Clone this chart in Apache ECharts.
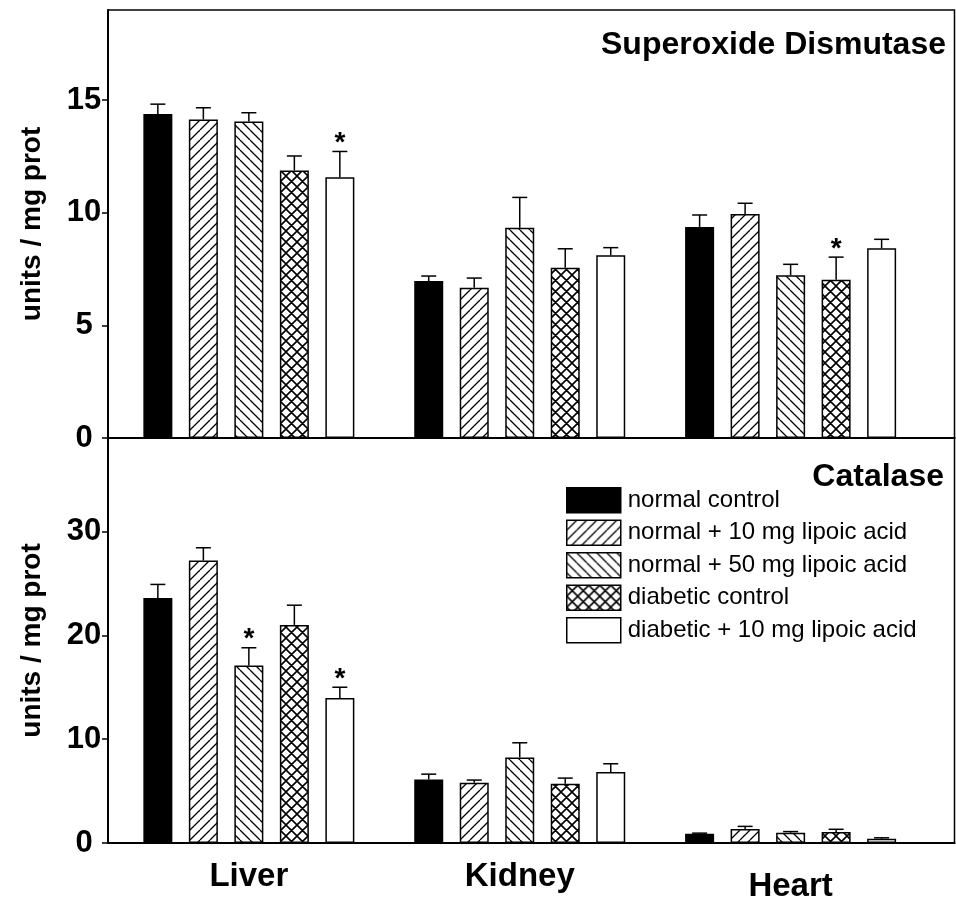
<!DOCTYPE html>
<html><head><meta charset="utf-8">
<script src="https://cdn.jsdelivr.net/npm/echarts@6/dist/echarts.min.js"></script>
<style>html,body{margin:0;padding:0;background:#fff}#c{width:956px;height:904px}</style>
</head><body><div id="c"></div>
<script>
// ---------- data ----------
const categories = ['Liver', 'Kidney', 'Heart'];
const categoryPos = [1, 2, 3];
const groupNames = ['normal control', 'normal + 10 mg lipoic acid', 'normal + 50 mg lipoic acid', 'diabetic control', 'diabetic + 10 mg lipoic acid'];
const sodTicks = [0, 5, 10, 15];
const catTicks = [0, 10, 20, 30];
// rows = groups, columns = Liver, Kidney, Heart
const sodMean = [[14.38, 6.97, 9.37], [14.14, 6.67, 9.94], [14.05, 9.33, 7.22], [11.88, 7.56, 7.03], [11.57, 8.11, 8.42]];
const sodSem  = [[0.44, 0.22, 0.53], [0.52, 0.43, 0.48], [0.39, 1.35, 0.49], [0.64, 0.84, 1.00], [1.15, 0.34, 0.40]];
const sodSig  = [[0, 0, 0], [0, 0, 0], [0, 0, 0], [0, 0, 1], [1, 0, 0]];
const catMean = [[23.6, 6.12, 0.90], [27.2, 5.80, 1.35], [17.1, 8.24, 0.99], [21.0, 5.70, 1.06], [13.97, 6.83, 0.41]];
const catSem  = [[1.30, 0.51, 0.05], [1.23, 0.26, 0.25], [1.70, 1.41, 0.11], [1.90, 0.55, 0.26], [1.03, 0.80, 0.09]];
const catSig  = [[0, 0, 0], [0, 0, 0], [1, 0, 0], [0, 0, 0], [1, 0, 0]];

// ---------- styles ----------
const FONT = '"Liberation Sans", Arial, Helvetica, sans-serif';
const BAR_W = 29, GAP_PX = 16.5, PITCH = BAR_W + GAP_PX;

function makePattern(kind, size, lw) {
  const cv = document.createElement('canvas');
  cv.width = size; cv.height = size;
  const ctx = cv.getContext('2d');
  ctx.fillStyle = '#fff'; ctx.fillRect(0, 0, size, size);
  ctx.strokeStyle = '#000'; ctx.lineWidth = lw;
  ctx.beginPath();
  for (const o of [-size, 0, size]) {
    if (kind === 'fwd' || kind === 'cross') { ctx.moveTo(o, size); ctx.lineTo(o + size, 0); }
    if (kind === 'back' || kind === 'cross') { ctx.moveTo(o, 0); ctx.lineTo(o + size, size); }
  }
  ctx.stroke();
  return { image: cv, repeat: 'repeat' };
}
const fills = ['#000', makePattern('fwd', 10, 1.3), makePattern('back', 10, 1.3), makePattern('cross', 11, 1.6), '#fff'];

function barSeries(means, gi) {
  return groupNames.map((name, g) => ({
    type: 'bar', name, xAxisIndex: gi, yAxisIndex: gi,
    barWidth: BAR_W, barGap: (GAP_PX / BAR_W * 100) + '%',
    itemStyle: { color: fills[g], borderColor: '#000', borderWidth: 1.5 },
    emphasis: { disabled: true }, silent: true, animation: false,
    data: categoryPos.map((p, i) => [p, means[g][i]])
  }));
}
function errSeries(means, sems, sigs, gi) {
  const data = [];
  groupNames.forEach((n, g) => categoryPos.forEach((p, i) => data.push([p, means[g][i] + sems[g][i], g, means[g][i], sigs[g][i]])));
  return {
    type: 'custom', xAxisIndex: gi, yAxisIndex: gi, z: 5, silent: true, animation: false,
    data, encode: { x: 0, y: 1 },
    renderItem(params, api) {
      const x = api.value(0), top = api.value(1), g = api.value(2), m = api.value(3), sig = api.value(4);
      const base = api.coord([x, m]);
      const cx = base[0] + (g - 2) * PITCH;
      const y1 = base[1], y2 = api.coord([x, top])[1];
      const ch = [
        { type: 'line', shape: { x1: cx, y1: y1, x2: cx, y2: y2 }, style: { stroke: '#000', lineWidth: 1.5 } },
        { type: 'line', shape: { x1: cx - 7.5, y1: y2, x2: cx + 7.5, y2: y2 }, style: { stroke: '#000', lineWidth: 1.5 } }
      ];
      if (sig) ch.push({ type: 'text', x: cx, y: y2 - 8, style: { text: '*', fontSize: 28, fontWeight: 'bold', fontFamily: FONT, fill: '#000', align: 'center', verticalAlign: 'middle' } });
      return { type: 'group', children: ch };
    }
  };
}
function yAxis(gi, max, ticks) {
  return {
    gridIndex: gi, type: 'value', min: 0, max: max,
    name: 'units / mg prot', nameLocation: 'middle', nameGap: 62,
    nameTextStyle: { fontSize: 28, fontWeight: 'bold', color: '#000', fontFamily: FONT },
    axisLine: { show: true, lineStyle: { color: '#000', width: 2 } },
    axisTick: { show: true, inside: false, length: 6, customValues: ticks, lineStyle: { color: '#000', width: 1.5 } },
    axisLabel: { customValues: ticks, fontSize: 31, fontWeight: 'bold', color: '#000', fontFamily: FONT, margin: 24, align: 'center' },
    splitLine: { show: false }
  };
}
function xAxis(gi, showLabels) {
  return {
    gridIndex: gi, type: 'value', min: 0.48, max: 3.605,
    axisLine: { show: true, onZero: false, lineStyle: { color: '#000', width: 2 } },
    axisTick: { show: false }, splitLine: { show: false },
    axisLabel: {
      show: showLabels, customValues: categoryPos, margin: 17,
      fontSize: 33, fontWeight: 'bold', color: '#000', fontFamily: FONT, verticalAlign: 'top',
      formatter: v => { const c = categories[Math.round(v) - 1]; return c === 'Heart' ? '{low|' + c + '}' : c; },
      rich: { low: { fontSize: 33, fontWeight: 'bold', color: '#000', fontFamily: FONT, padding: [10, 0, 0, 0] } }
    }
  };
}
const gridStyle = { show: true, borderColor: '#000', borderWidth: 1.5, backgroundColor: 'transparent', left: 108, right: 1.5 };

const option = {
  backgroundColor: '#fff',
  animation: false,
  title: [
    { text: 'Superoxide Dismutase', right: 10, top: 29, padding: 0, textStyle: { fontSize: 32, fontWeight: 'bold', color: '#000', fontFamily: FONT } },
    { text: 'Catalase', right: 12, top: 461, padding: 0, textStyle: { fontSize: 32, fontWeight: 'bold', color: '#000', fontFamily: FONT } }
  ],
  legend: {
    data: groupNames, orient: 'vertical', left: 566, top: 487, padding: 0,
    itemWidth: 54, itemHeight: 25, itemGap: 6, icon: 'rect', selectedMode: false,
    itemStyle: { borderColor: '#000', borderWidth: 1.5 },
    textStyle: { fontSize: 24, color: '#000', fontFamily: FONT, padding: [0, 0, 0, 2] }
  },
  grid: [
    Object.assign({ top: 10, height: 428 }, gridStyle),
    Object.assign({ top: 438, height: 405 }, gridStyle)
  ],
  xAxis: [xAxis(0, false), xAxis(1, true)],
  yAxis: [yAxis(0, 19, sodTicks), yAxis(1, 39, catTicks)],
  series: [
    ...barSeries(sodMean, 0), errSeries(sodMean, sodSem, sodSig, 0),
    ...barSeries(catMean, 1), errSeries(catMean, catSem, catSig, 1)
  ]
};
const chart = echarts.init(document.getElementById('c'), null, { renderer: 'canvas' });
chart.setOption(option);
</script></body></html>
